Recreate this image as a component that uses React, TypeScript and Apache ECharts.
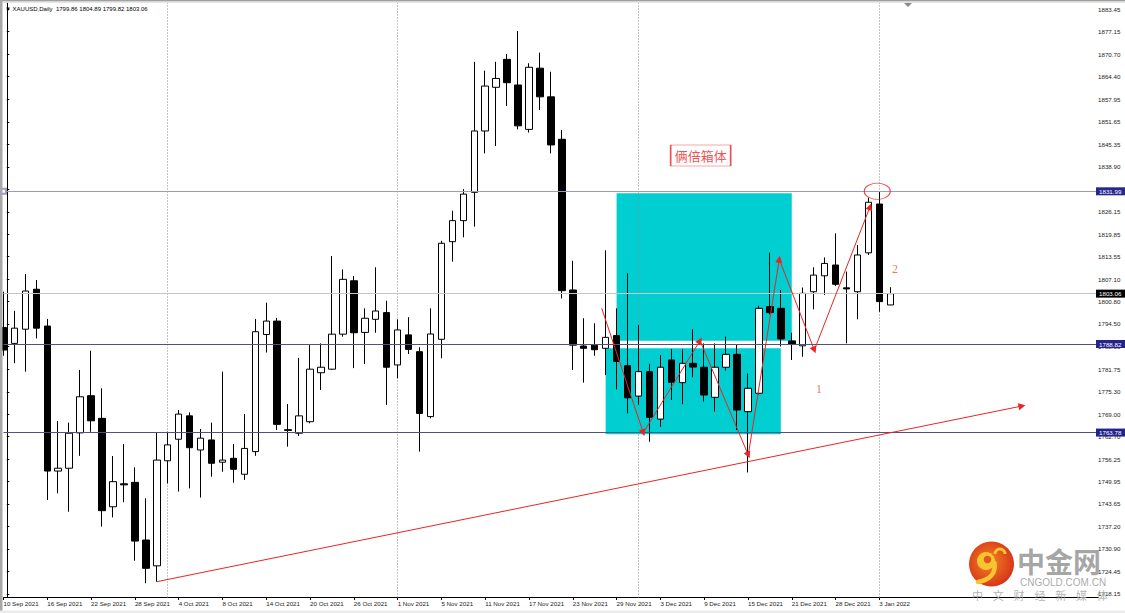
import React, { useEffect, useRef } from "react";
import * as echarts from "echarts";

// ---------- data ----------
const dates: string[] = [
  "10 Sep 2021", "13 Sep 2021", "14 Sep 2021", "15 Sep 2021", "16 Sep 2021", "17 Sep 2021", "20 Sep 2021", "21 Sep 2021",
  "22 Sep 2021", "23 Sep 2021", "24 Sep 2021", "27 Sep 2021", "28 Sep 2021", "29 Sep 2021", "30 Sep 2021",
  "1 Oct 2021", "4 Oct 2021", "5 Oct 2021", "6 Oct 2021", "7 Oct 2021", "8 Oct 2021", "11 Oct 2021", "12 Oct 2021",
  "13 Oct 2021", "14 Oct 2021", "15 Oct 2021", "18 Oct 2021", "19 Oct 2021", "20 Oct 2021", "21 Oct 2021", "22 Oct 2021",
  "25 Oct 2021", "26 Oct 2021", "27 Oct 2021", "28 Oct 2021", "29 Oct 2021",
  "1 Nov 2021", "2 Nov 2021", "3 Nov 2021", "4 Nov 2021", "5 Nov 2021", "8 Nov 2021", "9 Nov 2021", "10 Nov 2021",
  "11 Nov 2021", "12 Nov 2021", "15 Nov 2021", "16 Nov 2021", "17 Nov 2021", "18 Nov 2021", "19 Nov 2021", "22 Nov 2021",
  "23 Nov 2021", "24 Nov 2021", "25 Nov 2021", "26 Nov 2021", "29 Nov 2021", "30 Nov 2021",
  "1 Dec 2021", "2 Dec 2021", "3 Dec 2021", "6 Dec 2021", "7 Dec 2021", "8 Dec 2021", "9 Dec 2021", "10 Dec 2021",
  "13 Dec 2021", "14 Dec 2021", "15 Dec 2021", "16 Dec 2021", "17 Dec 2021", "20 Dec 2021", "21 Dec 2021", "22 Dec 2021",
  "23 Dec 2021", "24 Dec 2021", "28 Dec 2021", "29 Dec 2021", "30 Dec 2021", "31 Dec 2021",
  "3 Jan 2022", "4 Jan 2022",
];

// open, high, low, close
const ohlc: [number, number, number, number][] = [
  [1793.5, 1803.6, 1785.5, 1787.1],
  [1789.0, 1798.2, 1783.4, 1793.3],
  [1793.0, 1808.6, 1781.0, 1803.8],
  [1804.3, 1806.9, 1790.4, 1793.3],
  [1793.9, 1795.9, 1744.7, 1752.9],
  [1752.9, 1767.05, 1746.6, 1753.7],
  [1753.7, 1766.6, 1741.4, 1763.6],
  [1763.7, 1781.5, 1757.2, 1773.9],
  [1774.2, 1786.9, 1764.0, 1767.1],
  [1767.8, 1776.3, 1737.2, 1741.7],
  [1742.8, 1757.15, 1739.8, 1749.9],
  [1749.3, 1760.5, 1744.1, 1749.0],
  [1749.7, 1753.96, 1727.55, 1733.1],
  [1733.4, 1745.2, 1721.2, 1725.4],
  [1726.1, 1763.8, 1721.6, 1756.0],
  [1755.8, 1764.0, 1749.4, 1760.3],
  [1761.9, 1770.15, 1747.1, 1769.0],
  [1768.5, 1769.5, 1748.0, 1759.5],
  [1758.85, 1764.8, 1745.4, 1762.2],
  [1761.7, 1766.6, 1751.3, 1755.1],
  [1755.4, 1781.0, 1752.7, 1756.0],
  [1756.5, 1760.5, 1749.6, 1753.4],
  [1752.0, 1769.0, 1750.4, 1759.3],
  [1758.4, 1795.9, 1757.2, 1792.3],
  [1791.5, 1800.5, 1786.4, 1795.3],
  [1795.3, 1796.2, 1764.5, 1766.1],
  [1764.6, 1771.85, 1759.8, 1764.4],
  [1763.6, 1784.9, 1762.8, 1768.5],
  [1766.85, 1788.5, 1766.4, 1781.7],
  [1780.7, 1789.0, 1775.8, 1782.25],
  [1781.7, 1813.7, 1781.5, 1791.6],
  [1791.6, 1809.9, 1790.9, 1807.1],
  [1806.7, 1808.05, 1782.0, 1792.0],
  [1792.1, 1798.9, 1783.15, 1796.1],
  [1795.8, 1810.5, 1792.0, 1798.15],
  [1797.7, 1801.05, 1771.6, 1782.25],
  [1782.9, 1795.8, 1779.1, 1792.8],
  [1791.4, 1796.4, 1786.0, 1787.3],
  [1786.65, 1787.9, 1758.4, 1769.2],
  [1768.3, 1798.9, 1767.8, 1791.65],
  [1790.15, 1818.0, 1784.8, 1817.3],
  [1817.75, 1826.5, 1812.1, 1823.7],
  [1823.7, 1832.6, 1819.0, 1831.2],
  [1831.7, 1868.6, 1822.0, 1849.05],
  [1849.05, 1866.1, 1842.7, 1861.75],
  [1861.4, 1868.6, 1844.8, 1863.9],
  [1869.3, 1870.8, 1856.1, 1862.7],
  [1862.05, 1877.3, 1849.5, 1850.5],
  [1849.5, 1868.2, 1848.6, 1867.05],
  [1866.8, 1871.2, 1855.0, 1858.7],
  [1858.7, 1865.8, 1842.7, 1845.1],
  [1846.7, 1849.35, 1801.7, 1803.9],
  [1804.1, 1812.35, 1781.5, 1788.5],
  [1788.25, 1796.1, 1777.9, 1787.6],
  [1788.5, 1794.7, 1785.5, 1787.2],
  [1787.6, 1815.3, 1780.05, 1790.7],
  [1791.2, 1798.9, 1776.0, 1783.9],
  [1782.7, 1808.8, 1769.2, 1773.6],
  [1774.1, 1794.2, 1771.6, 1781.0],
  [1781.0, 1783.2, 1761.2, 1768.1],
  [1767.6, 1785.7, 1765.4, 1782.25],
  [1784.3, 1787.4, 1773.0, 1778.0],
  [1777.9, 1787.4, 1771.8, 1783.35],
  [1783.35, 1792.97, 1779.4, 1782.3],
  [1782.25, 1789.0, 1772.5, 1774.4],
  [1773.75, 1789.0, 1769.7, 1782.25],
  [1782.25, 1790.9, 1781.3, 1785.9],
  [1785.9, 1788.7, 1764.5, 1770.15],
  [1769.7, 1780.5, 1752.5, 1776.3],
  [1774.9, 1799.6, 1774.5, 1798.9],
  [1799.4, 1814.65, 1797.2, 1797.7],
  [1798.9, 1804.1, 1788.1, 1790.25],
  [1789.7, 1792.0, 1784.3, 1788.75],
  [1788.3, 1804.8, 1785.2, 1803.15],
  [1803.6, 1810.5, 1798.6, 1808.3],
  [1808.1, 1813.3, 1802.7, 1811.6],
  [1811.15, 1820.1, 1805.2, 1805.7],
  [1804.7, 1809.3, 1789.0, 1804.4],
  [1803.6, 1816.8, 1795.8, 1813.99],
  [1814.6, 1830.2, 1813.98, 1828.9],
  [1828.4, 1831.99, 1797.95, 1800.8],
  [1799.86, 1804.89, 1799.82, 1803.06],
];

const emptySlots = 19; // chart shift area on the right
const yTicks: number[] = [
  1883.45, 1877.15, 1870.7, 1864.4, 1857.95, 1851.65, 1845.35, 1838.9, 1832.6, 1826.15, 1819.85, 1813.55, 1807.1,
  1800.8, 1794.5, 1788.05, 1781.75, 1775.3, 1769.0, 1762.7, 1756.25, 1749.95, 1743.65, 1737.2, 1730.9, 1724.45, 1718.15,
];
const yMin = 1717.15;
const yMax = 1885.23;

// horizontal price lines [price, line colour, label background]
const priceLines: [number, string, string][] = [
  [1831.99, "#9a9ac6", "#27278e"],
  [1803.06, "#c6c6c6", "#000000"],
  [1788.82, "#52527f", "#23238a"],
  [1763.78, "#52527f", "#23238a"],
];
const monthSeparators: number[] = [15, 36, 58, 80];

// cyan boxes [x0, y0, x1, y1] in bar index / price
const boxes: [number, number, number, number][] = [
  [56, 1831.43, 72, 1789.76],
  [55, 1787.6, 71, 1763.29],
];
// red zig-zag (bar index, price)
const zigzag: [number, number][] = [
  [54.64, 1798.92], [58.44, 1763.74], [63.62, 1789.76], [68.03, 1757.44], [70.86, 1812.77], [74.06, 1787.12], [79.15, 1827.64],
];
const trendLine: [number, number][] = [[14.02, 1721.63], [93.03, 1771.29]];
const highMark: [number, number] = [79.81, 1831.99];
const boxNote = { pos: [63.68, 1842.12], text: "俩倍箱体" };
const waveNotes: { pos: [number, number]; text: string }[] = [
  { pos: [74.49, 1776.1], text: "1" },
  { pos: [81.43, 1810.03], text: "2" },
];

const RED = "#ea2424";

export default function App() {
  const ref = useRef<HTMLDivElement>(null);

  useEffect(() => {
    document.body.style.margin = "0";
    const chart = echarts.init(ref.current!, null, { renderer: "svg" });

    const categories = dates.concat(Array.from({ length: emptySlots }, (_, i) => `#${i}`));
    const candleData = ohlc.map(([o, h, l, c]) => [o, c, l, h]);
    const showIdx = (i: number) => i % 4 === 0 && i < dates.length;
    const last = ohlc[ohlc.length - 1];
    const header = `▼ XAUUSD,Daily  ${last[0].toFixed(2)} ${last[1].toFixed(2)} ${last[2].toFixed(2)} ${last[3].toFixed(2)}`;

    const zigSegments = zigzag.slice(1).map((p, i) => [
      { coord: zigzag[i] },
      { coord: p },
    ]);

    const wmChars = "中文财经新媒体".split("");

    const option: any = {
      animation: false,
      backgroundColor: "#ffffff",
      grid: { left: 3.5, right: 26.7, top: 3, bottom: 15.5, containLabel: false, outerBoundsMode: "none" },
      xAxis: [
        {
          type: "category",
          data: categories,
          boundaryGap: false,
          axisLine: { show: true, lineStyle: { color: "#000", width: 1 } },
          axisTick: { show: true, interval: showIdx, length: 2.5, lineStyle: { color: "#000" } },
          axisLabel: {
            show: true, interval: showIdx, align: "left", margin: 3, fontSize: 6.2, color: "#1c1c1c",
            fontFamily: "Liberation Sans", showMinLabel: true, hideOverlap: false,
          },
          splitLine: { show: false },
        },
        { type: "value", min: 0, max: 100, show: false },
      ],
      yAxis: [
        {
          type: "value",
          position: "right",
          min: yMin,
          max: yMax,
          offset: -3.3,
          axisLine: { show: true, lineStyle: { color: "#000", width: 1 } },
          axisTick: { show: true, customValues: yTicks, length: 2.5, lineStyle: { color: "#000" } },
          axisLabel: {
            show: true, customValues: yTicks, margin: 3, fontSize: 6.2, color: "#1c1c1c",
            fontFamily: "Liberation Sans", formatter: (v: number) => v.toFixed(2), hideOverlap: false,
          },
          splitLine: { show: false },
        },
      ],
      series: [
        {
          type: "candlestick",
          xAxisIndex: 0,
          yAxisIndex: 0,
          data: candleData,
          barWidth: 7,
          silent: true,
          z: 2,
          itemStyle: { color: "#ffffff", color0: "#000000", borderColor: "#000000", borderColor0: "#000000", borderWidth: 1 },
          markLine: {
            silent: true,
            animation: false,
            symbol: ["none", "none"],
            data: priceLines.map(([v, lc, bg], i) => ({
              yAxis: v,
              symbol: i === 0 ? "emptyRect" : "none",
              symbolSize: 5,
              lineStyle: { color: lc, width: 1, type: "solid" },
              label: {
                show: true, position: "end", distance: -2.3,
                formatter: (p: any) => Number(p.value).toFixed(2),
                color: "#ffffff", backgroundColor: bg, padding: [1, 4, 1, 3],
                fontSize: 6.2, fontFamily: "Liberation Sans",
              },
            })),
          },
        },
        {
          type: "line",
          xAxisIndex: 1,
          yAxisIndex: 0,
          data: [],
          silent: true,
          markArea: {
            silent: true,
            z: 1,
            itemStyle: { color: "#00ced1", opacity: 1, borderWidth: 0 },
            label: { show: false },
            data: boxes.map(([x0, y0, x1, y1]) => [{ coord: [x0, y0] }, { coord: [x1, y1] }]),
          },
          markLine: {
            silent: true,
            z: 1.5,
            symbol: ["none", "none"],
            label: { show: false },
            lineStyle: { color: "#8a8a8a", type: [1, 2], width: 1 },
            data: monthSeparators.map((i) => ({ xAxis: i })),
          },
        },
        {
          type: "line",
          xAxisIndex: 1,
          yAxisIndex: 0,
          data: [],
          silent: true,
          markLine: {
            silent: true,
            symbol: ["none", "triangle"],
            symbolSize: 7,
            label: { show: false },
            itemStyle: { color: RED },
            lineStyle: { color: RED, width: 1, type: "solid" },
            data: [...zigSegments, [{ coord: trendLine[0] }, { coord: trendLine[1] }]],
          },
        },
        {
          type: "scatter",
          xAxisIndex: 1,
          yAxisIndex: 0,
          silent: true,
          z: 6,
          data: [
            {
              value: highMark, symbol: "circle", symbolSize: [26, 16],
              itemStyle: { color: "rgba(0,0,0,0)", borderColor: RED, borderWidth: 1 },
            },
            {
              value: boxNote.pos, symbol: "rect", symbolSize: [60, 21],
              itemStyle: { color: "#ffffff", borderColor: RED, borderWidth: 1 },
              label: {
                show: true, position: "inside", formatter: boxNote.text, color: RED, fontSize: 13,
                fontFamily: "Noto Sans CJK SC",
              },
            },
            ...waveNotes.map((n) => ({
              value: n.pos, symbol: "circle", symbolSize: 1,
              itemStyle: { color: "rgba(0,0,0,0)" },
              label: {
                show: true, position: "inside", formatter: n.text, color: "#e2523e", fontSize: 12,
                fontFamily: "Liberation Serif",
              },
            })),
          ],
        },
      ],
      graphic: {
        elements: [
          { type: "rect", silent: true, z: 100, shape: { x: 0, y: 0, width: 1125, height: 1.5 }, style: { fill: "#a0a0a0" } },
          { type: "rect", silent: true, z: 100, shape: { x: 0, y: 1.5, width: 1125, height: 1.2 }, style: { fill: "#dcdcdc" } },
          { type: "rect", silent: true, z: 100, shape: { x: 0, y: 0, width: 2.5, height: 613 }, style: { fill: "#a8a8a8" } },
          { type: "rect", silent: true, z: 100, shape: { x: 0, y: 610.5, width: 1125, height: 2.5 }, style: { fill: "#ececec" } },
          { type: "polygon", silent: true, z: 100, shape: { points: [[904, 3], [912, 3], [908, 7]] }, style: { fill: "#8a8a8a" } },
          {
            type: "text", silent: true, z: 100, x: 5, y: 9,
            style: { text: header, fill: "#000", fontSize: 6, fontFamily: "Liberation Sans", verticalAlign: "middle" },
          },
          // watermark logo
          {
            type: "circle", silent: true, z: 100, shape: { cx: 991.5, cy: 564, r: 22.5 },
            style: {
              fill: {
                type: "radial", x: 0.45, y: 0.45, r: 0.6,
                colorStops: [{ offset: 0, color: "#f3861f" }, { offset: 1, color: "#d52f1a" }],
              },
            },
          },
          { type: "circle", silent: true, z: 101, shape: { cx: 986, cy: 561, r: 9 }, style: { fill: "#f7c531" } },
          { type: "circle", silent: true, z: 102, shape: { cx: 987.5, cy: 559.5, r: 3.8 }, style: { fill: "#e5561e" } },
          {
            type: "bezierCurve", silent: true, z: 101,
            shape: { x1: 994.5, y1: 563, cpx1: 996, cpy1: 573, cpx2: 990, cpy2: 580, x2: 978, y2: 582 },
            style: { stroke: "#f7c531", lineWidth: 4.5, fill: null, lineCap: "round" },
          },
          {
            type: "arc", silent: true, z: 101,
            shape: { cx: 1000, cy: 554, r: 5, startAngle: Math.PI, endAngle: Math.PI * 2 },
            style: { stroke: "#f7c531", lineWidth: 3, fill: null },
          },
          {
            type: "text", silent: true, z: 100, x: 1017, y: 561,
            style: {
              text: "中金网", fill: "rgba(150,150,150,0.85)", fontSize: 28, fontWeight: "bold",
              fontFamily: "Noto Sans CJK SC", verticalAlign: "middle",
            },
          },
          {
            type: "text", silent: true, z: 100, x: 1020, y: 582,
            style: {
              text: "CNGOLD.COM.CN", fill: "rgba(160,160,160,0.9)", fontSize: 10,
              fontFamily: "Liberation Sans", verticalAlign: "middle",
            },
          },
          ...wmChars.map((ch, i) => ({
            type: "text", silent: true, z: 100, x: 972 + i * 20.8, y: 595,
            style: {
              text: ch, fill: "rgba(170,170,170,0.9)", fontSize: 11,
              fontFamily: "Noto Sans CJK SC", verticalAlign: "middle",
            },
          })),
        ],
      },
    };

    chart.setOption(option);
    return () => chart.dispose();
  }, []);

  return (
    <div
      ref={ref}
      style={{ position: "absolute", left: 0, top: 0, width: 1125, height: 613, background: "#fff" }}
    />
  );
}
